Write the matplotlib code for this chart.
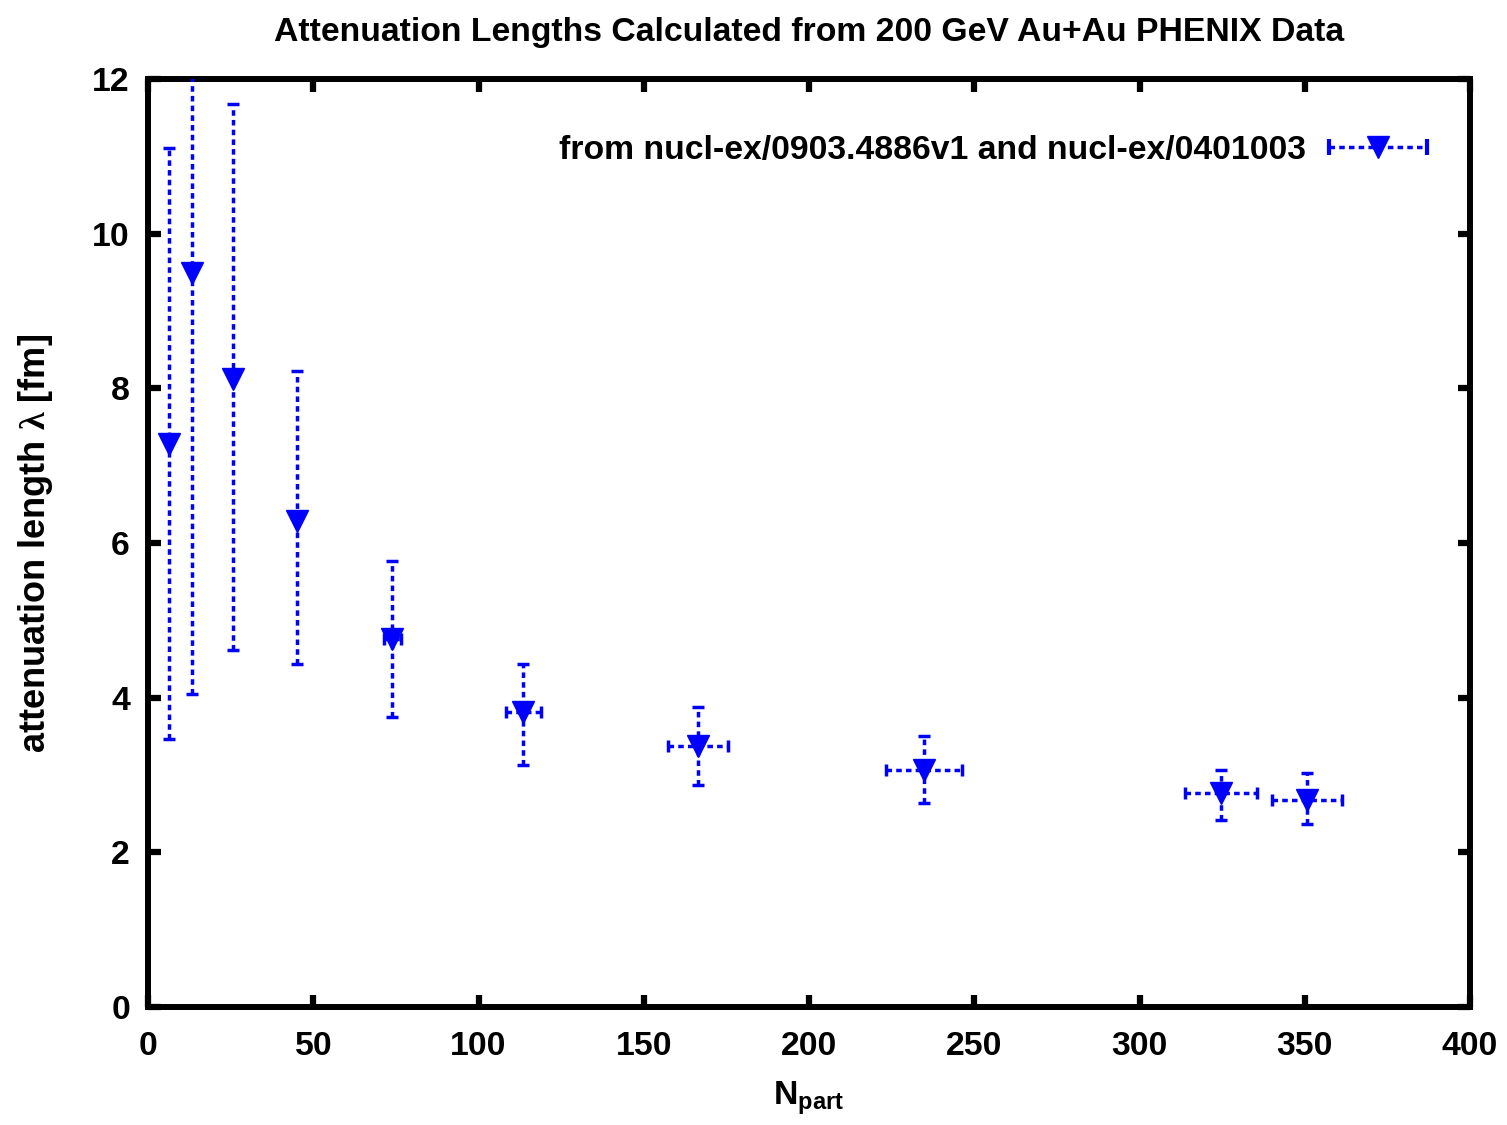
import matplotlib
matplotlib.use("Agg")
import numpy as np
import matplotlib.pyplot as plt
from matplotlib.lines import Line2D
from matplotlib.legend_handler import HandlerLine2D

# Attenuation lengths vs. number of participants
npart = [6.4, 13.3, 25.8, 45.2, 73.9, 113.6, 166.4, 234.8, 324.8, 350.6]
npart_err = [0.0, 0.0, 0.0, 0.0, 2.5, 5.3, 9.1, 11.4, 10.9, 10.6]
lam = [7.28, 9.49, 8.12, 6.28, 4.76, 3.81, 3.37, 3.07, 2.77, 2.68]
lam_hi = [11.11, 14.9, 11.68, 8.22, 5.77, 4.43, 3.88, 3.50, 3.07, 3.03]
lam_lo = [3.47, 4.05, 4.62, 4.43, 3.75, 3.13, 2.87, 2.64, 2.42, 2.36]

x_ticks = [0, 50, 100, 150, 200, 250, 300, 350, 400]
y_ticks = [0, 2, 4, 6, 8, 10, 12]

title = "Attenuation Lengths Calculated from 200 GeV Au+Au PHENIX Data"
legend_label = "from nucl-ex/0903.4886v1 and nucl-ex/0401003"

plt.rcParams["font.family"] = ["Liberation Sans", "DejaVu Sans"]
plt.rcParams["font.weight"] = "bold"
plt.rcParams["axes.labelweight"] = "bold"
plt.rcParams["axes.titleweight"] = "bold"
plt.rcParams["mathtext.fontset"] = "custom"
plt.rcParams["mathtext.rm"] = "Liberation Sans:bold"
plt.rcParams["mathtext.bf"] = "Liberation Sans:bold"
plt.rcParams["mathtext.sf"] = "Liberation Serif"
plt.rcParams["mathtext.default"] = "rm"

FS = 24.3
BLUE = "#0000ff"
DOTS = (0, (1.6, 1.2))

fig = plt.figure(figsize=(15.07, 11.25), dpi=100)
ax = fig.add_axes([148 / 1507, 1 - 1007 / 1125, 1322 / 1507, 928 / 1125])

lam_a = np.array(lam)
yerr = np.vstack([lam_a - np.array(lam_lo), np.array(lam_hi) - lam_a])

cont = ax.errorbar(npart, lam, yerr=yerr, xerr=npart_err, fmt="v", color=BLUE,
                   ms=16, elinewidth=2.5, capsize=4.5, capthick=2.5, zorder=3)
for col in cont[2]:
    col.set_linestyle(DOTS)

ax.set_xlim(0, 400)
ax.set_ylim(0, 12)
ax.set_xticks(x_ticks)
ax.set_yticks(y_ticks)
ax.tick_params(direction="in", length=9, width=4.5, top=True, right=True,
               labelsize=FS, colors="black")
ax.tick_params(axis="x", pad=17)
ax.tick_params(axis="y", pad=13)
for lab in ax.get_xticklabels() + ax.get_yticklabels():
    lab.set_fontweight("bold")
for sp in ax.spines.values():
    sp.set_linewidth(4.3)

ax.set_title(title, fontsize=FS, fontweight="bold", pad=27)
ax.set_xlabel(r"N$_{\rm part}$", fontsize=FS, fontweight="bold", labelpad=13)
ax.set_ylabel(r"attenuation length $\mathsf{\lambda}$ [fm]", fontsize=26,
              fontweight="bold", labelpad=27)

# legend key: dotted horizontal bar with end caps and a marker in the middle
bar_proxy = Line2D([], [], color=BLUE, lw=2.5, ls=DOTS, marker="|", ms=12, mew=3)
tri_proxy = Line2D([], [], color=BLUE, ls="none", marker="v", ms=16)
ax.legend([(bar_proxy, tri_proxy)], [legend_label],
          handler_map={bar_proxy: HandlerLine2D(numpoints=2),
                       tri_proxy: HandlerLine2D(numpoints=1)},
          loc="center right", bbox_to_anchor=(0.975, 0.923),
          frameon=False, markerfirst=False, fontsize=FS,
          handlelength=3.5, handletextpad=0.38, borderpad=0, borderaxespad=0)

fig.savefig("out.png", dpi=100)
